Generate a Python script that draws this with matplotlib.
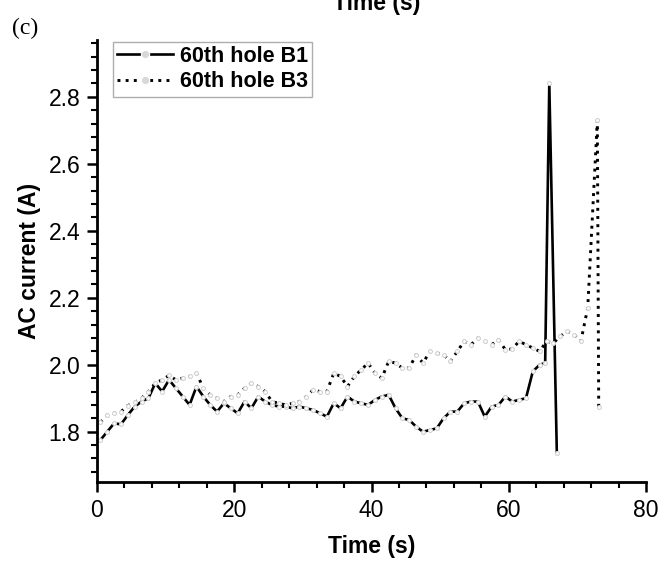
import numpy as np
import matplotlib
matplotlib.use("Agg")
import matplotlib.pyplot as plt
from matplotlib.ticker import MultipleLocator, FormatStrFormatter

# hole B1, sampled about once per second, ends with the spike
t_b1 = [0.5, 1.5, 2.5, 3.5, 4.5, 5.5, 6.5, 7.5, 8.5, 9.5,
        10.5, 11.5, 12.5, 13.5, 14.5, 15.5, 16.5, 17.5, 18.5, 19.5,
        20.5, 21.5, 22.5, 23.5, 24.5, 25.5, 26.5, 27.5, 28.5, 29.5,
        30.5, 31.5, 32.5, 33.5, 34.5, 35.5, 36.5, 37.5, 38.5, 39.5,
        40.5, 41.5, 42.5, 43.5, 44.5, 45.5, 46.5, 47.5, 48.5, 49.5,
        50.5, 51.5, 52.5, 53.5, 54.5, 55.5, 56.5, 57.5, 58.5, 59.5,
        60.5, 61.5, 62.5, 63.5, 64.5, 65.3, 65.9, 67.0]
i_b1 = [1.775, 1.80, 1.825, 1.822, 1.85, 1.875, 1.89, 1.90, 1.945, 1.92,
        1.955, 1.93, 1.905, 1.88, 1.935, 1.905, 1.88, 1.86, 1.885, 1.87,
        1.855, 1.89, 1.87, 1.905, 1.89, 1.88, 1.875, 1.875, 1.87, 1.875,
        1.87, 1.865, 1.855, 1.845, 1.885, 1.87, 1.905, 1.89, 1.885, 1.88,
        1.895, 1.905, 1.91, 1.87, 1.84, 1.835, 1.815, 1.80, 1.805, 1.81,
        1.84, 1.86, 1.86, 1.885, 1.89, 1.89, 1.845, 1.875, 1.88, 1.905,
        1.89, 1.895, 1.90, 1.98, 2.00, 2.005, 2.84, 1.735]

# hole B3
t_b3 = [0.5, 1.5, 2.5, 3.5, 4.5, 5.5, 6.5, 7.5, 8.5, 9.5,
        10.5, 11.5, 12.5, 13.5, 14.5, 15.5, 16.5, 17.5, 18.5, 19.5,
        20.5, 21.5, 22.5, 23.5, 24.5, 25.5, 26.5, 27.5, 28.5, 29.5,
        30.5, 31.5, 32.5, 33.5, 34.5, 35.5, 36.5, 37.5, 38.5, 39.5,
        40.5, 41.5, 42.5, 43.5, 44.5, 45.5, 46.5, 47.5, 48.5, 49.5,
        50.5, 51.5, 52.5, 53.5, 54.5, 55.5, 56.5, 57.5, 58.5, 59.5,
        60.5, 61.5, 62.5, 63.5, 64.5, 65.5, 66.5, 67.5, 68.5, 69.5,
        70.5, 71.5, 72.9, 73.1]
i_b3 = [1.828, 1.85, 1.855, 1.86, 1.878, 1.888, 1.90, 1.92, 1.945, 1.955,
        1.968, 1.955, 1.96, 1.965, 1.975, 1.93, 1.91, 1.90, 1.89, 1.905,
        1.91, 1.93, 1.945, 1.935, 1.92, 1.89, 1.885, 1.88, 1.885, 1.89,
        1.905, 1.925, 1.92, 1.92, 1.975, 1.965, 1.935, 1.965, 1.985, 2.005,
        1.975, 1.96, 2.01, 2.005, 1.99, 1.99, 2.03, 2.005, 2.04, 2.035,
        2.03, 2.01, 2.04, 2.07, 2.06, 2.08, 2.07, 2.06, 2.075, 2.045,
        2.047, 2.07, 2.06, 2.05, 2.04, 2.07, 2.065, 2.085, 2.10, 2.09,
        2.07, 2.17, 2.73, 1.875]

x_ticks = [0, 20, 40, 60, 80]
y_ticks = [1.8, 2.0, 2.2, 2.4, 2.6, 2.8]

plt.rcParams['font.family'] = ['Liberation Sans', 'DejaVu Sans']

fig = plt.figure(figsize=(6.64, 5.63), dpi=100)
ax = fig.add_axes([0.146, 0.144, 0.827, 0.785])

mk = dict(marker='o', markersize=2.8, markerfacecolor='white',
          markeredgecolor='#d2d2d2', markeredgewidth=0.8)
ax.plot(t_b1, i_b1, color='black', lw=1.9, linestyle='-', label='60th hole B1', **mk)
ax.plot(t_b3, i_b3, color='black', lw=2.1, linestyle=(0, (1, 1.8)), label='60th hole B3', **mk)

ax.set_xlim(0, 80)
ax.set_ylim(1.65, 2.97)
ax.set_xticks(x_ticks)
ax.set_yticks(y_ticks)
ax.yaxis.set_major_formatter(FormatStrFormatter('%.1f'))
ax.xaxis.set_minor_locator(MultipleLocator(4))
ax.yaxis.set_minor_locator(MultipleLocator(0.04))

for s in ['top', 'right']:
    ax.spines[s].set_visible(False)
for s in ['left', 'bottom']:
    ax.spines[s].set_linewidth(2.0)
ax.tick_params(which='major', direction='out', length=7, width=1.8, labelsize=16.5, pad=5)
ax.tick_params(which='minor', direction='out', length=4, width=1.5)

ax.set_xlabel('Time (s)', fontsize=16.5, fontweight='bold', labelpad=10)
ax.set_ylabel('AC current (A)', fontsize=16.5, fontweight='bold', labelpad=5)

leg = ax.legend(loc='upper left', bbox_to_anchor=(0.170, 0.926),
                bbox_transform=fig.transFigure, numpoints=1,
                prop={'weight': 'bold', 'size': 15.5}, handlelength=2.6,
                handletextpad=0.3, borderpad=0.2, labelspacing=0.2,
                borderaxespad=0, fancybox=False)
leg.get_frame().set_edgecolor('#999999')
leg.get_frame().set_linewidth(1.0)
# bigger white marker in the legend leaves the gap seen in the original
for h in leg.legend_handles:
    h.set_markersize(6)
    h.set_markeredgecolor('white')
    h.set_markerfacecolor('#d8d8d8')

# panel tag and the cut-off label of the panel above
fig.text(0.018, 0.950, '(c)', fontsize=17, family=['Liberation Serif', 'DejaVu Serif'],
         va='center', ha='left')
fig.text(0.568, 1 - 10 / 563, 'Time (s)', fontsize=16.5, fontweight='bold',
         ha='center', va='baseline')

fig.savefig('out.png', dpi=100)
